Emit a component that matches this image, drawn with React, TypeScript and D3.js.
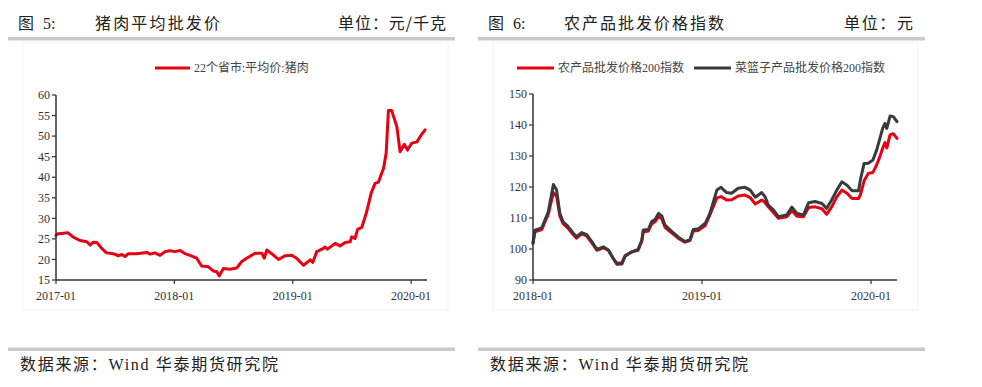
import React from 'react';
import * as d3 from 'd3';

// 图5 猪肉平均批发价 (元/千克)
const porkDates = [
  '2017-01-01', '2017-01-04', '2017-02-07', '2017-02-22', '2017-03-16', '2017-04-06', '2017-04-16',
  '2017-04-26', '2017-05-07', '2017-05-22', '2017-06-06', '2017-06-27', '2017-07-12', '2017-07-23',
  '2017-08-02', '2017-08-12', '2017-09-07', '2017-10-08', '2017-10-18', '2017-11-02', '2017-11-18',
  '2017-12-03', '2017-12-19', '2018-01-03', '2018-01-19', '2018-02-03', '2018-02-18', '2018-03-11',
  '2018-03-26', '2018-04-16', '2018-05-01', '2018-05-12', '2018-05-19', '2018-06-01', '2018-06-22',
  '2018-07-12', '2018-07-28', '2018-08-12', '2018-09-07', '2018-09-28', '2018-10-05', '2018-10-13',
  '2018-10-28', '2018-11-18', '2018-12-08', '2018-12-29', '2019-01-13', '2019-02-03', '2019-02-24',
  '2019-03-04', '2019-03-16', '2019-04-01', '2019-04-11', '2019-04-18', '2019-05-12', '2019-05-27',
  '2019-06-12', '2019-06-27', '2019-07-02', '2019-07-12', '2019-07-20', '2019-08-02', '2019-08-17',
  '2019-08-31', '2019-09-12', '2019-09-22', '2019-10-08', '2019-10-16', '2019-10-23', '2019-11-02',
  '2019-11-18', '2019-11-28', '2019-12-11', '2019-12-21', '2020-01-03', '2020-01-19', '2020-02-03',
  '2020-02-13',
];
const porkValues = [
  25.8, 26.2, 26.5, 25.5, 24.6, 24.3, 23.5,
  24.2, 24.1, 22.7, 21.6, 21.4, 20.9, 21.2,
  20.7, 21.4, 21.4, 21.7, 21.3, 21.6, 21.0,
  21.9, 22.1, 21.9, 22.2, 21.4, 21.0, 20.3,
  18.4, 18.2, 17.2, 17.0, 16.0, 17.8, 17.6,
  17.9, 19.5, 20.3, 21.5, 21.5, 20.3, 22.3,
  21.4, 20.0, 20.9, 21.0, 20.3, 18.6, 19.9,
  19.3, 21.9, 22.5, 23.0, 22.5, 23.9, 23.3,
  24.1, 24.3, 25.5, 25.1, 27.3, 27.8, 31.6,
  36.2, 38.5, 38.8, 42.2, 45.8, 56.2, 56.2,
  52.3, 46.2, 48.0, 46.6, 48.3, 48.6, 50.5,
  51.5,
];
const porkLegend = '22个省市:平均价:猪肉';
const porkYTicks = [15, 20, 25, 30, 35, 40, 45, 50, 55, 60];
const porkXTicks = ['2017-01', '2018-01', '2019-01', '2020-01'];

// 图6 农产品批发价格指数
const indexDates = [
  '2018-01-01', '2018-01-05', '2018-01-20', '2018-01-27', '2018-02-03', '2018-02-14', '2018-02-21',
  '2018-02-28', '2018-03-07', '2018-03-18', '2018-03-29', '2018-04-05', '2018-04-16', '2018-04-27',
  '2018-05-08', '2018-05-19', '2018-06-02', '2018-06-13', '2018-06-23', '2018-07-01', '2018-07-12',
  '2018-07-19', '2018-08-02', '2018-08-16', '2018-08-24', '2018-08-27', '2018-09-07', '2018-09-14',
  '2018-09-22', '2018-09-29', '2018-10-06', '2018-10-13', '2018-10-28', '2018-11-11', '2018-11-25',
  '2018-12-06', '2018-12-13', '2018-12-24', '2019-01-08', '2019-01-18', '2019-02-02', '2019-02-11',
  '2019-02-23', '2019-03-06', '2019-03-20', '2019-04-04', '2019-04-15', '2019-04-26', '2019-05-10',
  '2019-05-17', '2019-05-24', '2019-06-04', '2019-06-15', '2019-07-03', '2019-07-14', '2019-07-25',
  '2019-08-08', '2019-08-19', '2019-09-02', '2019-09-17', '2019-09-27', '2019-10-08', '2019-10-19',
  '2019-10-30', '2019-11-10', '2019-11-21', '2019-12-05', '2019-12-09', '2019-12-17', '2019-12-26',
  '2020-01-05', '2020-01-13', '2020-01-21', '2020-01-26', '2020-01-31', '2020-02-04', '2020-02-11',
  '2020-02-18', '2020-02-26',
];
const agriValues = [
  101.8, 105.5, 106.3, 108.8, 111.2, 118.2, 117.0,
  110.6, 108.2, 106.6, 104.6, 103.5, 104.9, 104.2,
  102.0, 99.6, 100.4, 99.5, 97.0, 95.4, 95.6,
  97.9, 99.0, 99.6, 102.5, 105.5, 105.8, 108.0,
  108.9, 110.4, 109.8, 107.0, 105.1, 103.4, 102.2,
  102.7, 105.8, 106.0, 107.6, 111.0, 116.5, 116.9,
  115.8, 115.9, 117.1, 117.4, 116.6, 114.5, 115.8,
  115.0, 113.6, 111.8, 109.9, 110.4, 112.4, 110.6,
  110.4, 113.4, 113.6, 113.0, 111.2, 113.6, 116.8,
  119.0, 118.0, 116.3, 116.3, 117.5, 122.0, 124.4,
  124.7, 127.1, 130.2, 132.5, 134.3, 132.6, 136.8,
  137.2, 135.7,
];
const basketValues = [
  102.0, 106.1, 106.8, 109.4, 112.0, 120.8, 119.0,
  111.5, 108.8, 107.2, 105.1, 104.0, 105.3, 104.6,
  102.4, 99.9, 100.7, 99.7, 97.0, 95.1, 95.2,
  97.7, 99.1, 99.9, 102.9, 106.1, 106.3, 108.8,
  109.6, 111.5, 110.7, 107.7, 105.6, 103.8, 102.4,
  103.0, 106.3, 106.5, 108.3, 111.5, 119.0, 119.9,
  118.2, 118.0, 119.6, 119.9, 119.0, 116.7, 118.2,
  116.9, 114.2, 112.6, 110.4, 111.0, 113.5, 111.5,
  111.0, 114.9, 115.3, 114.7, 113.1, 115.8, 119.0,
  121.7, 120.6, 118.8, 118.8, 122.3, 127.6, 127.7,
  128.7, 131.9, 136.2, 138.9, 140.5, 138.9, 142.9,
  142.7, 141.1,
];
const agriLegend = '农产品批发价格200指数';
const basketLegend = '菜篮子产品批发价格200指数';
const indexYTicks = [90, 100, 110, 120, 130, 140, 150];
const indexXTicks = ['2018-01', '2019-01', '2020-01'];

const RED = '#e60012';
const DARK = '#3a3a3a';
const RULE = '#cacaca';
const SERIF = '"Liberation Serif", "Noto Sans CJK SC", serif';
const CJK = '"Noto Sans CJK SC", "Liberation Serif", serif';

const parse = d3.timeParse('%Y-%m-%d');
const parseMonth = d3.timeParse('%Y-%m');

type Series = { values: number[]; color: string };

function LineChart(props: {
  dates: string[];
  series: Series[];
  xRange: [number, number];
  xDomain: [string, string];
  yRange: [number, number];
  yTicks: number[];
  xTicks: string[];
}) {
  const { dates, series, xRange, xDomain, yRange, yTicks, xTicks } = props;
  const x = d3.scaleTime()
    .domain([parse(xDomain[0]) as Date, parse(xDomain[1]) as Date])
    .range(xRange);
  const y = d3.scaleLinear()
    .domain([yTicks[0], yTicks[yTicks.length - 1]])
    .range(yRange);
  const pts = dates.map(d => parse(d) as Date);
  const line = d3.line<number>()
    .x((_, i) => x(pts[i]))
    .y(v => y(v))
    .curve(d3.curveLinear);
  const [x0, x1] = xRange;
  const yBase = yRange[0];

  return (
    <g>
      {series.map((s, i) => (
        <path key={i} d={line(s.values) || ''} fill='none' stroke={s.color}
          strokeWidth={3} strokeLinejoin='round' strokeLinecap='round' />
      ))}
      {/* y axis */}
      <line x1={x0} x2={x0} y1={yRange[1]} y2={yBase} stroke='#333' strokeWidth={1.5} />
      {yTicks.map(t => (
        <g key={t} transform={`translate(0,${y(t)})`}>
          <line x1={x0 - 4} x2={x0} stroke='#333' strokeWidth={1.2} />
          <text x={x0 - 6} dy='0.35em' textAnchor='end' fontFamily={SERIF}
            fontSize={12} fill='#333'>{t}</text>
        </g>
      ))}
      {/* x axis */}
      <line x1={x0} x2={x1} y1={yBase} y2={yBase} stroke='#333' strokeWidth={1.5} />
      {xTicks.map(t => {
        const px = x(parseMonth(t) as Date);
        return (
          <g key={t} transform={`translate(${px},${yBase})`}>
            <line y1={0} y2={4} stroke='#333' strokeWidth={1.2} />
            <text y={20} textAnchor='middle' fontFamily={SERIF} fontSize={12}
              fill='#333'>{t}</text>
          </g>
        );
      })}
    </g>
  );
}

function Panel(props: {
  left: number;
  right: number;
  num: string;
  title: string;
  titleX: number;
  titleW: number;
  unit: string;
  unitX: number;
  unitW: number;
  children: React.ReactNode;
}) {
  const { left, right, num, title, titleX, titleW, unit, unitX, unitW, children } = props;
  return (
    <g>
      <text x={left + 10} y={29} fontFamily={CJK} fontSize={16} fill='#222'>图</text>
      <text x={left + 35} y={29} fontFamily={SERIF} fontSize={16} fill='#222'>{num}:</text>
      <text x={titleX} y={29} fontFamily={CJK} fontSize={16} fill='#222'
        textLength={titleW} lengthAdjust='spacing'>{title}</text>
      <text x={unitX} y={29} fontFamily={CJK} fontSize={16} fill='#222'
        textLength={unitW} lengthAdjust='spacing'>{unit}</text>
      <rect x={left} y={37} width={right - left} height={3.5} fill={RULE} />
      <rect x={left + 15} y={42} width={right - left - 22} height={268}
        fill='none' stroke='#f3f3f3' strokeWidth={1} />
      {children}
      <rect x={left} y={347.5} width={right - left} height={3.5} fill={RULE} />
      <text x={left + 12} y={370} fontFamily={SERIF} fontSize={16} fill='#222'
        textLength={258} lengthAdjust='spacing'>数据来源：Wind 华泰期货研究院</text>
    </g>
  );
}

export default function App() {
  return (
    <svg width={982} height={387} viewBox='0 0 982 387'
      style={{ position: 'absolute', left: 0, top: 0, background: '#fff' }}>
      <rect width={982} height={387} fill='#fff' />

      <Panel left={8} right={455} num='5' title='猪肉平均批发价' titleX={95} titleW={125}
        unit='单位：元/千克' unitX={338} unitW={108}>
        <line x1={155} x2={190} y1={68} y2={68} stroke={RED} strokeWidth={3} />
        <text x={194} y={72} fontFamily={SERIF} fontSize={12} fill='#444'>{porkLegend}</text>
        <LineChart
          dates={porkDates}
          series={[{ values: porkValues, color: RED }]}
          xRange={[56, 427]}
          xDomain={['2017-01-01', '2020-02-19']}
          yRange={[280, 95]}
          yTicks={porkYTicks}
          xTicks={porkXTicks}
        />
      </Panel>

      <Panel left={478} right={925} num='6' title='农产品批发价格指数' titleX={564} titleW={160}
        unit='单位：元' unitX={844} unitW={69}>
        <line x1={517} x2={554} y1={68} y2={68} stroke={RED} strokeWidth={3} />
        <text x={558} y={72} fontFamily={SERIF} fontSize={12} fill='#444'>{agriLegend}</text>
        <line x1={694} x2={731} y1={68} y2={68} stroke={DARK} strokeWidth={3} />
        <text x={735} y={72} fontFamily={SERIF} fontSize={12} fill='#444'>{basketLegend}</text>
        <LineChart
          dates={indexDates}
          series={[{ values: agriValues, color: RED }, { values: basketValues, color: DARK }]}
          xRange={[533, 897]}
          xDomain={['2018-01-01', '2020-02-26']}
          yRange={[280, 94]}
          yTicks={indexYTicks}
          xTicks={indexXTicks}
        />
      </Panel>
    </svg>
  );
}
